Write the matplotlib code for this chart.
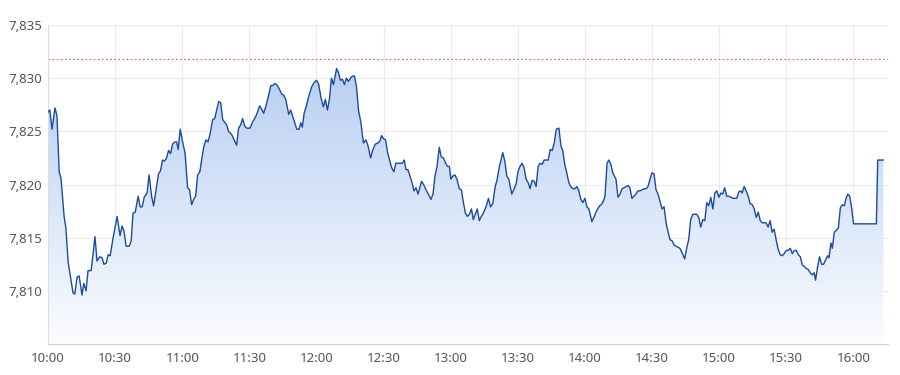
import matplotlib
matplotlib.use("Agg")
import matplotlib.pyplot as plt
import numpy as np
from matplotlib.colors import LinearSegmentedColormap
from matplotlib.ticker import FuncFormatter

# minutes after 10:00 and price
minutes = [
    0, 0.8, 1.8, 3.1, 4.0, 5.0, 5.8, 7.2, 8.0, 9.0, 11.2, 12.0, 13.0, 13.9, 15.2, 16.0,
    17.0, 17.9, 19.3, 21.0, 21.9, 23.1, 24.2, 25.0, 26.0, 26.9, 27.8, 29.1, 30.9, 32.2,
    33.1, 34.0, 34.9, 36.3, 37.2, 38.0, 39.0, 40.3, 41.2, 42.1, 43.0, 44.3, 45.2, 46.3,
    47.2, 48.5, 49.4, 50.3, 51.2, 52.1, 53.0, 53.9, 54.8, 55.7, 56.6, 57.5, 58.2, 59.1,
    60.0, 61.3, 62.4, 63.3, 64.2, 65.1, 66.0, 66.9, 67.9, 68.8, 69.7, 70.6, 71.5, 72.4,
    73.6, 74.5, 75.4, 76.3, 77.2, 78.1, 79.9, 80.7, 82.1, 83.4, 84.3, 85.2, 86.1, 87.0,
    87.9, 88.8, 90.3, 91.5, 92.4, 93.3, 94.6, 95.5, 96.4, 97.3, 98.2, 99.6, 100.4, 101.3,
    102.2, 103.1, 104.5, 105.4, 106.3, 107.6, 108.5, 109.4, 111.2, 112.2,
    113.0, 113.7, 114.5, 115.5, 116.7, 117.9, 119.0, 120.0, 120.9, 122.1, 123.1, 124.0,
    124.9, 125.8, 126.7, 127.6, 129.0, 129.9, 130.7, 131.6, 132.5, 133.4, 134.3, 135.2,
    136.1, 137.0, 137.9, 138.8, 139.9, 141.0, 142.1, 143.1, 144.2, 145.1, 146.3, 147.5,
    148.4, 149.1, 150.0, 150.9, 151.8, 152.7, 153.6, 154.6, 155.5, 156.6, 157.5, 158.4,
    159.3, 160.0, 160.9, 161.8, 162.7, 163.6, 164.5, 165.4, 166.1, 167.0, 167.9, 169.0,
    170.0, 171.2, 172.1, 173.0, 173.9, 174.9, 175.8, 176.7, 177.6, 178.5, 179.4, 180.1,
    181.0, 181.9, 182.8, 183.9, 184.8, 185.7, 186.6, 187.5, 188.4, 189.3, 190.1, 191.0,
    191.9, 192.8, 193.7, 194.6, 195.8, 196.9, 197.8, 198.8, 199.9, 200.7, 201.8, 203.3,
    204.2, 205.1, 206.0, 207.3, 208.2, 209.3, 210.1, 211.0, 211.9, 212.8, 213.7, 214.6,
    215.5, 216.4, 217.3, 218.2, 219.1, 220.0, 220.9, 221.8, 222.7, 223.6, 224.5, 225.4,
    226.3, 227.2, 228.4, 229.3, 230.1, 231.0, 231.9, 232.8, 233.7, 234.6, 235.5, 236.4,
    237.3, 238.2, 239.1, 240.0, 240.9, 241.8, 243.1, 244.2, 245.4, 246.6,
    247.3, 248.2, 249.0, 249.9, 250.7, 251.6, 252.5, 253.9, 254.8, 255.7, 256.6, 257.5,
    258.4, 259.3, 260.1, 261.0, 261.9, 262.8, 263.7, 264.6, 265.5, 266.4, 267.3, 268.2,
    269.1, 270.0, 270.9, 271.8, 272.7, 273.6, 274.5, 275.4, 276.3, 277.2, 278.1, 279.0,
    279.9, 280.7, 281.6, 282.5, 283.4, 284.6, 285.5, 286.4, 287.3, 288.2, 289.1, 290.0,
    290.9, 291.8, 292.7, 293.6, 294.5, 295.4, 296.3, 297.2, 298.1, 299.0, 299.9, 300.8,
    301.6, 302.5, 303.4, 304.3, 305.2, 306.1, 307.0, 307.9, 308.8, 309.7, 310.3, 311.2,
    312.1, 313.0, 313.9, 314.8, 315.7, 316.6, 317.5, 318.4, 319.3, 320.1, 321.0, 321.9,
    322.8, 323.7, 324.6, 325.5, 326.4, 327.3, 328.2, 329.1, 330.0, 330.9, 331.8, 332.7,
    333.6, 334.5, 335.4, 336.3, 337.2, 338.1, 339.0, 339.9, 340.7, 341.6, 342.5, 343.1,
    344.0, 344.9, 345.8, 346.7, 347.6, 348.5, 349.1, 350.0, 350.6, 351.5, 352.4, 353.3,
    354.2, 355.1, 356.0, 356.6, 357.5, 358.4, 359.3, 360.1, 370.3, 370.9, 373.4,
]
prices = [
    7.8268, 7.8270, 7.8252, 7.8272, 7.8265, 7.8212, 7.8206, 7.8170, 7.8159, 7.8127, 7.8098, 7.8097, 7.8113, 7.8114, 7.8096, 7.8107,
    7.8100, 7.8119, 7.8119, 7.8151, 7.8128, 7.8132, 7.8131, 7.8125, 7.8126, 7.8134, 7.8133, 7.8150, 7.8170, 7.8152,
    7.8161, 7.8156, 7.8142, 7.8142, 7.8147, 7.8173, 7.8174, 7.8189, 7.8179, 7.8179, 7.8188, 7.8192, 7.8209, 7.8189,
    7.8180, 7.8198, 7.8210, 7.8213, 7.8223, 7.8222, 7.8225, 7.8232, 7.8229, 7.8238, 7.8240, 7.8240, 7.8233, 7.8252,
    7.8242, 7.8229, 7.8197, 7.8195, 7.8181, 7.8186, 7.8189, 7.8209, 7.8212, 7.8225, 7.8236, 7.8242, 7.8240, 7.8247,
    7.8261, 7.8262, 7.8270, 7.8278, 7.8277, 7.8261, 7.8256, 7.8250, 7.8247, 7.8241, 7.8237, 7.8253, 7.8256, 7.8262,
    7.8255, 7.8253, 7.8253, 7.8259, 7.8262, 7.8266, 7.8274, 7.8271, 7.8267, 7.8273, 7.8280, 7.8293, 7.8293, 7.8295,
    7.8294, 7.8291, 7.8285, 7.8284, 7.8280, 7.8266, 7.8270, 7.8264, 7.8252, 7.8252,
    7.8258, 7.8254, 7.8267, 7.8274, 7.8284, 7.8292, 7.8296, 7.8298, 7.8295, 7.8281, 7.8273, 7.8280,
    7.8270, 7.8280, 7.8300, 7.8294, 7.8309, 7.8305, 7.8298, 7.8299, 7.8294, 7.8300, 7.8297, 7.8300,
    7.8302, 7.8302, 7.8292, 7.8270, 7.8258, 7.8239, 7.8242, 7.8236, 7.8225, 7.8232, 7.8238, 7.8239,
    7.8241, 7.8246, 7.8243, 7.8242, 7.8230, 7.8223, 7.8216, 7.8212, 7.8220, 7.8220, 7.8220, 7.8220,
    7.8223, 7.8214, 7.8214, 7.8208, 7.8202, 7.8194, 7.8197, 7.8191, 7.8196, 7.8203, 7.8200, 7.8195,
    7.8191, 7.8186, 7.8191, 7.8208, 7.8217, 7.8235, 7.8226, 7.8225, 7.8221, 7.8217, 7.8217, 7.8205,
    7.8208, 7.8209, 7.8205, 7.8196, 7.8195, 7.8183, 7.8173, 7.8170, 7.8172, 7.8177, 7.8167, 7.8172,
    7.8177, 7.8166, 7.8170, 7.8173, 7.8179, 7.8187, 7.8179, 7.8182, 7.8198, 7.8204, 7.8217, 7.8230,
    7.8222, 7.8208, 7.8205, 7.8191, 7.8195, 7.8201, 7.8212, 7.8217, 7.8220, 7.8216, 7.8205, 7.8202,
    7.8196, 7.8204, 7.8203, 7.8198, 7.8217, 7.8220, 7.8219, 7.8223, 7.8223, 7.8223, 7.8233, 7.8232,
    7.8239, 7.8252, 7.8253, 7.8236, 7.8232, 7.8219, 7.8211, 7.8202, 7.8198, 7.8196, 7.8196, 7.8198,
    7.8194, 7.8186, 7.8183, 7.8187, 7.8179, 7.8177, 7.8165, 7.8170, 7.8176, 7.8180,
    7.8181, 7.8184, 7.8189, 7.8220, 7.8223, 7.8219, 7.8211, 7.8205, 7.8188, 7.8191, 7.8196, 7.8197,
    7.8198, 7.8199, 7.8197, 7.8187, 7.8189, 7.8191, 7.8194, 7.8194, 7.8195, 7.8196, 7.8196, 7.8198,
    7.8205, 7.8211, 7.8210, 7.8195, 7.8191, 7.8184, 7.8177, 7.8179, 7.8164, 7.8155, 7.8148, 7.8147,
    7.8143, 7.8142, 7.8141, 7.8140, 7.8136, 7.8130, 7.8140, 7.8148, 7.8167, 7.8172, 7.8172, 7.8172,
    7.8169, 7.8160, 7.8167, 7.8166, 7.8183, 7.8180, 7.8188, 7.8177, 7.8192, 7.8194, 7.8188, 7.8192,
    7.8191, 7.8197, 7.8189, 7.8189, 7.8188, 7.8187, 7.8187, 7.8187, 7.8193, 7.8194, 7.8192, 7.8198,
    7.8194, 7.8189, 7.8182, 7.8181, 7.8177, 7.8169, 7.8174, 7.8166, 7.8164, 7.8164, 7.8164, 7.8160,
    7.8166, 7.8155, 7.8158, 7.8148, 7.8139, 7.8134, 7.8133, 7.8135, 7.8138, 7.8138, 7.8140, 7.8135,
    7.8138, 7.8138, 7.8134, 7.8132, 7.8124, 7.8123, 7.8121, 7.8120, 7.8117, 7.8115, 7.8117, 7.8110,
    7.8122, 7.8132, 7.8125, 7.8125, 7.8129, 7.8133, 7.8131, 7.8145, 7.8140, 7.8155, 7.8157, 7.8159,
    7.8178, 7.8181, 7.8180, 7.8186, 7.8191, 7.8189, 7.8177, 7.8163, 7.8163, 7.8223, 7.8223,
]

prev_close = 7.8318
y_ticks = [7.810, 7.815, 7.820, 7.825, 7.830, 7.835]
x_ticks = [0, 30, 60, 90, 120, 150, 180, 210, 240, 270, 300, 330, 360]
x_labels = ["10:00", "10:30", "11:00", "11:30", "12:00", "12:30", "13:00",
            "13:30", "14:00", "14:30", "15:00", "15:30", "16:00"]

plt.rcParams["font.family"] = ["Noto Sans", "DejaVu Sans"]

fig = plt.figure(figsize=(9, 3.75), dpi=100)
ax = fig.add_axes([48 / 900, 31 / 375, 840 / 900, 319 / 375])

ymin, ymax = 7.805, 7.835
xmax = 375.5
ax.set_xlim(0, xmax)
ax.set_ylim(ymin, ymax)

# gradient fill under the line, clipped to the area polygon
fill = ax.fill_between(minutes, prices, ymin, color="none", lw=0)
cmap = LinearSegmentedColormap.from_list("fade", ["#fbfcff", "#b8cff2"])
top = max(prices)
grad = np.linspace(0, 1, 256).reshape(-1, 1)
img = ax.imshow(grad, cmap=cmap, aspect="auto", origin="lower",
                extent=[0, xmax, ymin, top], zorder=1)
img.set_clip_path(fill.get_paths()[0], transform=ax.transData)

ax.plot(minutes, prices, color="#1d4b9b", lw=1.0, zorder=3)
ax.axhline(prev_close, color="#e05a5a", lw=0.8, ls=(0, (1.5, 2.2)), zorder=2)

ax.set_yticks(y_ticks)
ax.yaxis.set_major_formatter(FuncFormatter(lambda v, p: f"{v:.3f}".replace(".", ",")))
ax.set_xticks(x_ticks)
ax.set_xticklabels(x_labels)
ax.tick_params(length=0, labelsize=9.5, colors="#555555")
ax.tick_params(axis="y", pad=4)
ax.tick_params(axis="x", pad=6)

ax.grid(True, color="#ebebeb", lw=0.8, zorder=0)
ax.set_axisbelow(True)
for side in ["top", "right"]:
    ax.spines[side].set_visible(False)
ax.spines["left"].set_color("#dddddd")
ax.spines["bottom"].set_color("#cfcfcf")

fig.savefig("out.png", dpi=100)
